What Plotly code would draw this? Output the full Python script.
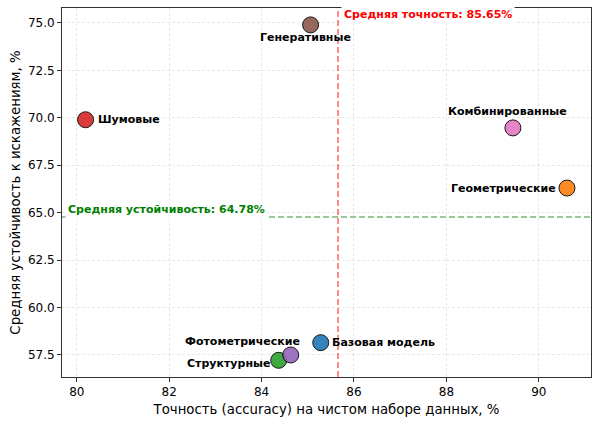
import plotly.graph_objects as go

names = ["Базовая модель", "Геометрические", "Структурные", "Шумовые",
         "Фотометрические", "Генеративные", "Комбинированные"]
accuracy = [85.28, 90.61, 84.37, 80.19, 84.63, 85.06, 89.44]
robustness = [58.15, 66.30, 57.22, 69.90, 57.50, 74.90, 69.47]
colors = ["#1f77b4", "#ff7f0e", "#2ca02c", "#d62728", "#9467bd", "#8c564b", "#e377c2"]
# label placement: (xanchor, xshift, yshift)
label_pos = [("left", 9, 0), ("right", -9, 0), ("right", -7, -3), ("left", 10, 0),
             ("right", 11, 13), ("center", -5, -13), ("center", -5, 16)]

mean_acc = sum(accuracy) / len(accuracy)
mean_rob = sum(robustness) / len(robustness)

FONT = "DejaVu Sans"
fig = go.Figure()
for n, xv, yv, c in zip(names, accuracy, robustness, colors):
    fig.add_trace(go.Scatter(
        x=[xv], y=[yv], mode="markers", name=n,
        marker=dict(size=16, color=c, opacity=0.9, line=dict(color="black", width=1)),
        showlegend=False))

annotations = []
for n, xv, yv, (xa, xs, ys) in zip(names, accuracy, robustness, label_pos):
    annotations.append(dict(x=xv, y=yv, xref="x", yref="y", text=f"<b>{n}</b>",
                            showarrow=False, xanchor=xa, yanchor="middle",
                            xshift=xs, yshift=ys,
                            font=dict(family=FONT, size=11, color="black")))

annotations.append(dict(x=mean_acc, y=1, xref="x", yref="paper",
                        text=f"<b>Средняя точность: {mean_acc:.2f}%</b>",
                        showarrow=False, xanchor="left", yanchor="middle",
                        xshift=3, yshift=-6, bgcolor="white", borderpad=2,
                        font=dict(family=FONT, size=11, color="#ff0000")))
annotations.append(dict(x=0, y=mean_rob, xref="paper", yref="y",
                        text=f"<b>Средняя устойчивость: {mean_rob:.2f}%</b>",
                        showarrow=False, xanchor="left", yanchor="middle",
                        xshift=3, yshift=7, bgcolor="white", borderpad=2,
                        font=dict(family=FONT, size=11, color="#008000")))

shapes = [
    dict(type="line", xref="x", yref="paper", x0=mean_acc, x1=mean_acc, y0=0, y1=1,
         line=dict(color="rgba(255,0,0,0.6)", width=1.5, dash="6px,3px"), layer="below"),
    dict(type="line", xref="paper", yref="y", x0=0, x1=1, y0=mean_rob, y1=mean_rob,
         line=dict(color="rgba(0,128,0,0.55)", width=1.5, dash="6px,3px"), layer="below"),
]

axis_common = dict(showline=True, linecolor="#333333", linewidth=1, mirror=True,
                   ticks="outside", ticklen=4, tickcolor="#333333",
                   showgrid=True, gridcolor="rgba(0,0,0,0.09)", griddash="3px,2px",
                   zeroline=False, tickfont=dict(family=FONT, size=12, color="black"))

fig.update_layout(
    width=600, height=424,
    margin=dict(l=62, r=9, t=8, b=47),
    paper_bgcolor="white", plot_bgcolor="white",
    font=dict(family=FONT, color="black"),
    xaxis=dict(range=[79.68, 91.13], tickvals=[80, 82, 84, 86, 88, 90],
               ticktext=["80", "82", "84", "86", "88", "90"],
               title=dict(text="Точность (accuracy) на чистом наборе данных, %",
                          font=dict(family=FONT, size=13.3), standoff=6),
               **axis_common),
    yaxis=dict(range=[56.34, 75.79], tickvals=[57.5, 60, 62.5, 65, 67.5, 70, 72.5, 75],
               ticktext=["57.5", "60.0", "62.5", "65.0", "67.5", "70.0", "72.5", "75.0"],
               title=dict(text="Средняя устойчивость к искажениям, %",
                          font=dict(family=FONT, size=13.3), standoff=4),
               **axis_common),
    annotations=annotations, shapes=shapes,
)

fig.write_html("out.html")
